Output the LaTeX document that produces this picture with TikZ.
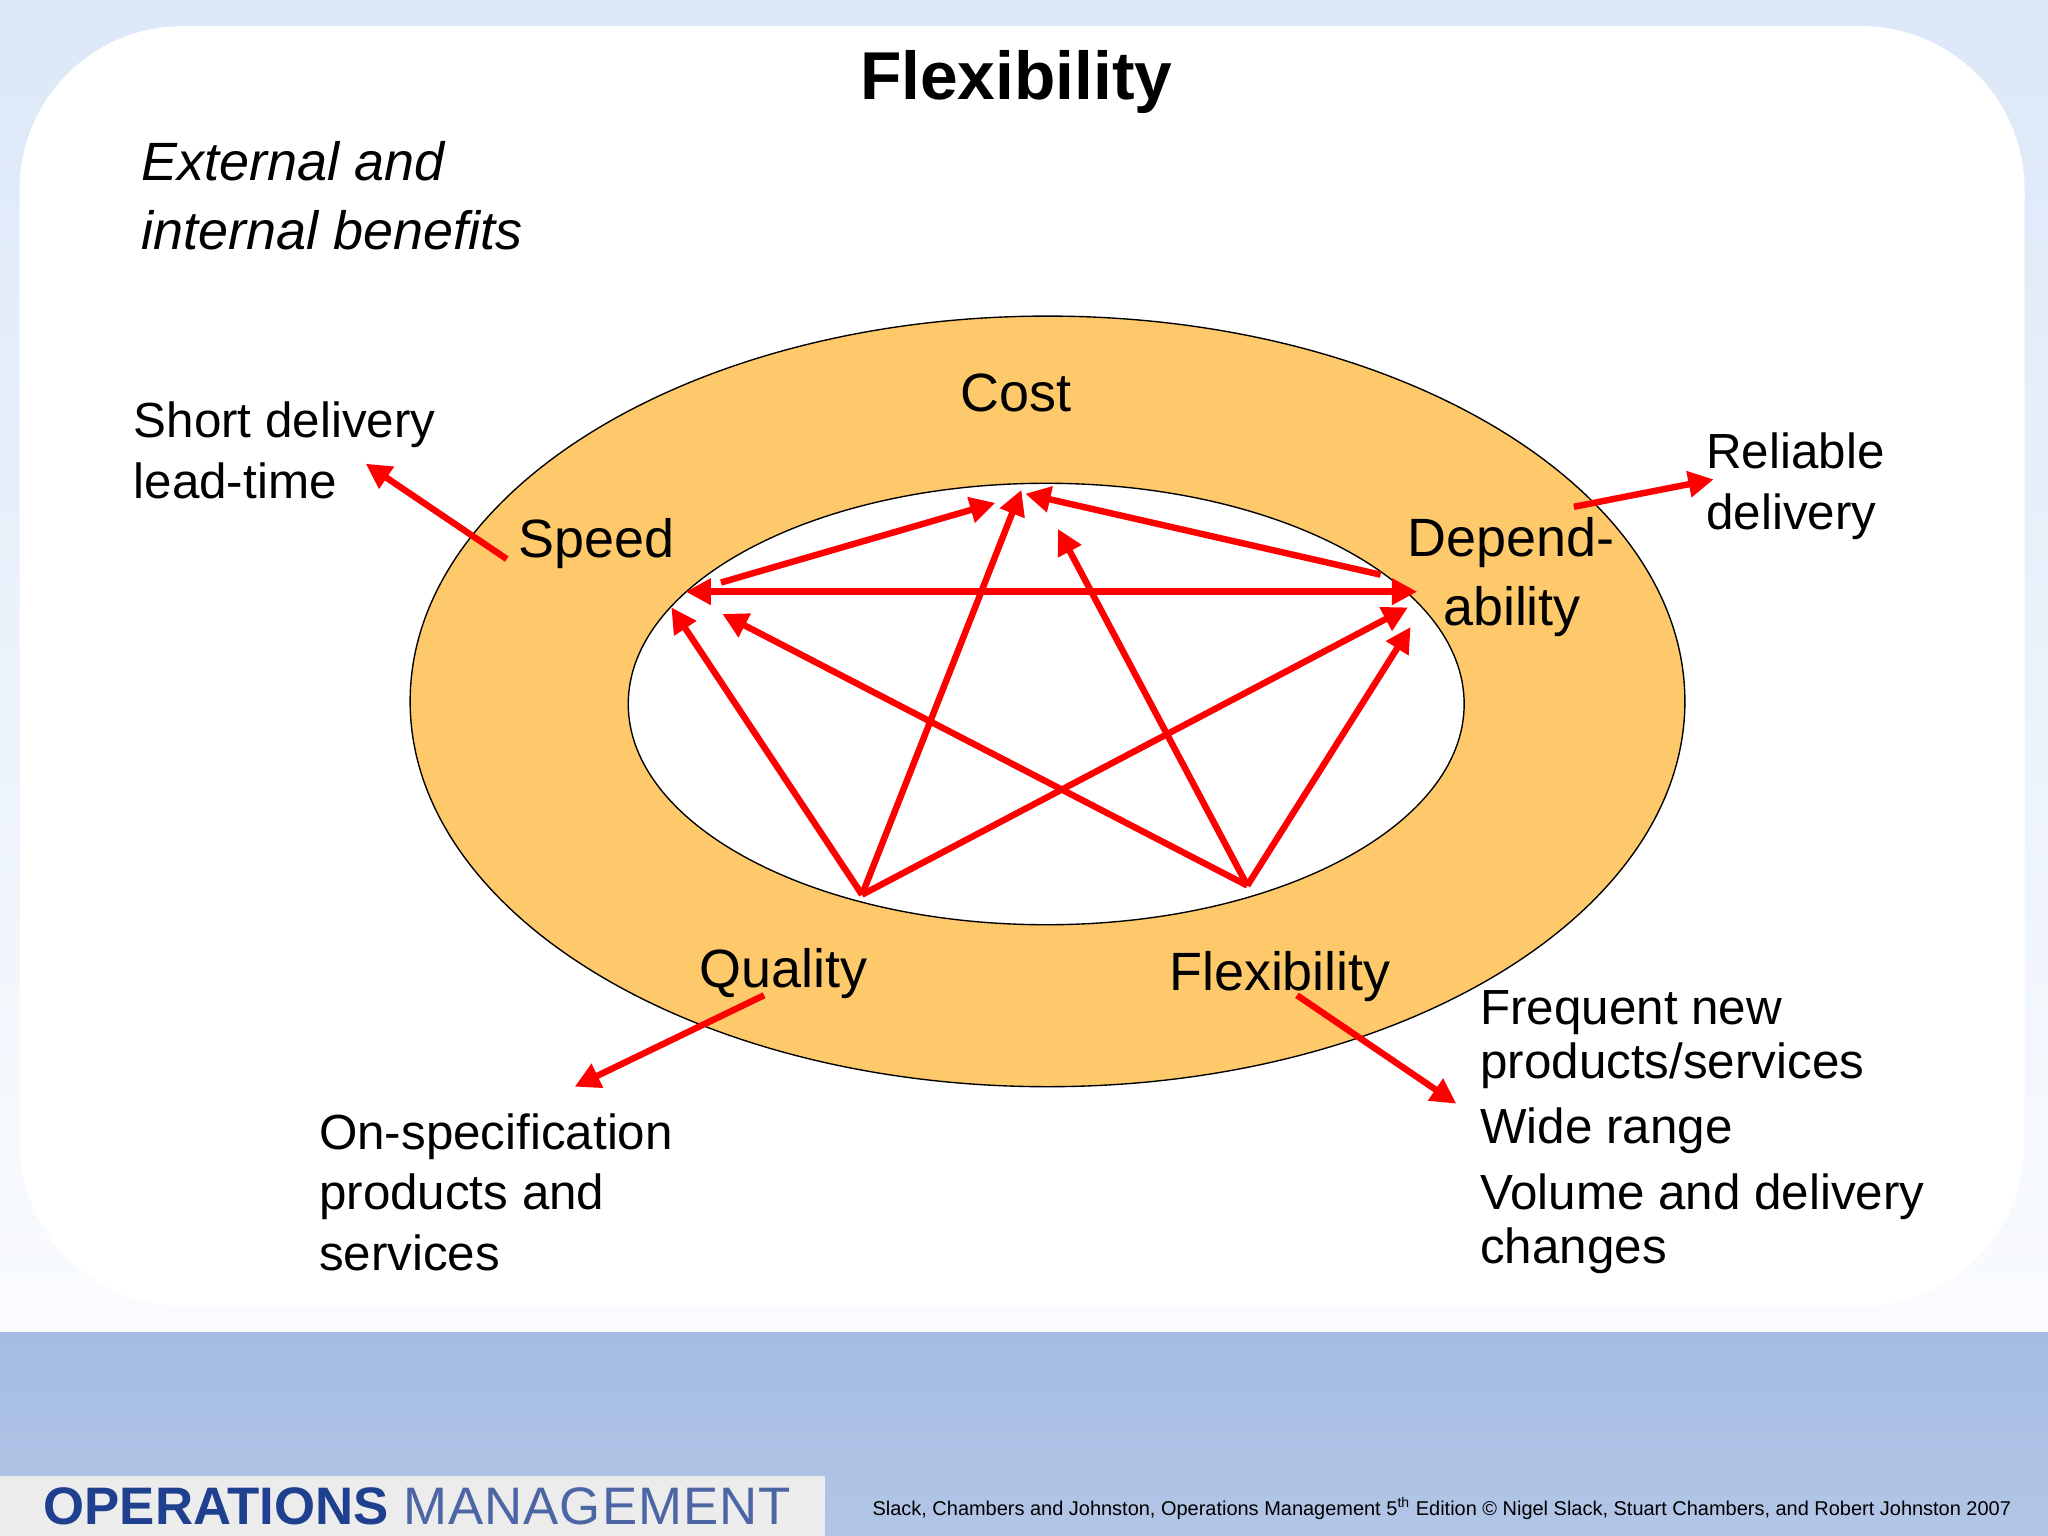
\documentclass[tikz,border=0pt]{standalone}
\usepackage{fontspec}
\setmainfont{Liberation Sans}
\usetikzlibrary{arrows.meta}
\definecolor{ring}{HTML}{FDC96B}
\definecolor{sky}{HTML}{DCE8F8}
\definecolor{band}{HTML}{7F9FD6}
\definecolor{opblue}{HTML}{1F3F8F}
\tikzset{
 ar/.style={red,line width=2.8pt,-{Triangle[length=11pt,width=11pt]}},
 lab/.style={font=\fontsize{23.5}{28}\selectfont,inner sep=0pt},
 side/.style={font=\fontsize{21.5}{26.5}\selectfont,align=left,inner sep=0pt},
}
\begin{document}
\begin{tikzpicture}[x=0.02cm,y=-0.02cm]
\useasboundingbox (0,0) rectangle (1568,1176);
\shade[top color=sky,bottom color=white!85!sky] (0,0) rectangle (1568,1020);
\shade[top color=band!70!white,bottom color=band!60!white] (0,1020) rectangle (1568,1176);
\fill[white,rounded corners=0.25cm*10] (15,20) rectangle (1550,1000);
\fill[gray!15] (0,1130) rectangle (632,1176);
\node[anchor=west,inner sep=0pt,font=\fontsize{23}{23}\selectfont] (ops) at (33,1153) {\textcolor{opblue}{\textbf{OPERATIONS}} \textcolor{opblue!80}{\addfontfeature{LetterSpace=2}MANAGEMENT}};
\node[anchor=east,inner sep=0pt,font=\fontsize{8.7}{9}\selectfont] (cite) at (1540,1155) {Slack, Chambers and Johnston, Operations Management 5\textsuperscript{th} Edition © Nigel Slack, Stuart Chambers, and Robert Johnston 2007};
\node[font=\fontsize{29.5}{30}\selectfont\bfseries,inner sep=0pt] (title) at (778,63) {Flexibility};
\node[anchor=north west,font=\fontsize{23.5}{30}\selectfont\itshape,align=left,inner sep=0pt] (ext) at (108,108) {External and\\internal benefits};
\draw[fill=ring,line width=0.6pt] (802,537) ellipse [x radius=488,y radius=295];
\draw[fill=white,line width=0.6pt] (801,539) ellipse [x radius=320,y radius=169];
\node[lab] (cost) at (778,301) {Cost};
\node[lab] (speed) at (457,416) {Speed};
\node[lab,align=left,anchor=west,font=\fontsize{23.5}{30}\selectfont] (dep) at (1077,442) {Depend-\\\hspace{0.55cm}ability};
\node[lab] (qual) at (600,745) {Quality};
\node[lab] (flex) at (980,748) {Flexibility};
\node[side,anchor=north west] (sdl) at (102,307) {Short delivery\\lead-time};
\node[side,anchor=north west] (rel) at (1306,331) {Reliable\\delivery};
\node[side,anchor=north west] (ons) at (244,852) {On-specification\\products and\\services};
\node[side,anchor=north west,font=\fontsize{21.5}{23.5}\selectfont] (fr) at (1133,758) {Frequent new\\products/services\\[5pt]Wide range\\[5pt]Volume and delivery\\changes};
\coordinate (S1) at (552,446); \coordinate (C1) at (762,385);
\coordinate (D1) at (1057,440); \coordinate (C2) at (785,378);
\coordinate (Q) at (660,685); \coordinate (F) at (955,678);
\coordinate (C3) at (782,375); \coordinate (C4) at (810,405);
\coordinate (SL) at (525,453); \coordinate (DR) at (1085,453);
\coordinate (S2) at (514,465); \coordinate (S3) at (553,470);
\coordinate (D2) at (1078,465); \coordinate (D3) at (1080,480);
\draw[ar] (S1) -- (C1);
\draw[ar] (D1) -- (C2);
\draw[ar] (Q) -- (C3);
\draw[ar] (F) -- (C4);
\draw[ar,{Triangle[length=11pt,width=11pt]}-{Triangle[length=11pt,width=11pt]}] (SL) -- (DR);
\draw[ar] (Q) -- (S2);
\draw[ar] (F) -- (S3);
\draw[ar] (Q) -- (D2);
\draw[ar] (F) -- (D3);
\coordinate (o1) at (388,428); \coordinate (o1e) at (280,355);
\coordinate (o2) at (1205,388); \coordinate (o2e) at (1312,367);
\coordinate (o3) at (585,762); \coordinate (o3e) at (440,832);
\coordinate (o4) at (993,762); \coordinate (o4e) at (1115,845);
\draw[ar] (o1) -- (o1e);
\draw[ar] (o2) -- (o2e);
\draw[ar] (o3) -- (o3e);
\draw[ar] (o4) -- (o4e);
\end{tikzpicture}
\end{document}
